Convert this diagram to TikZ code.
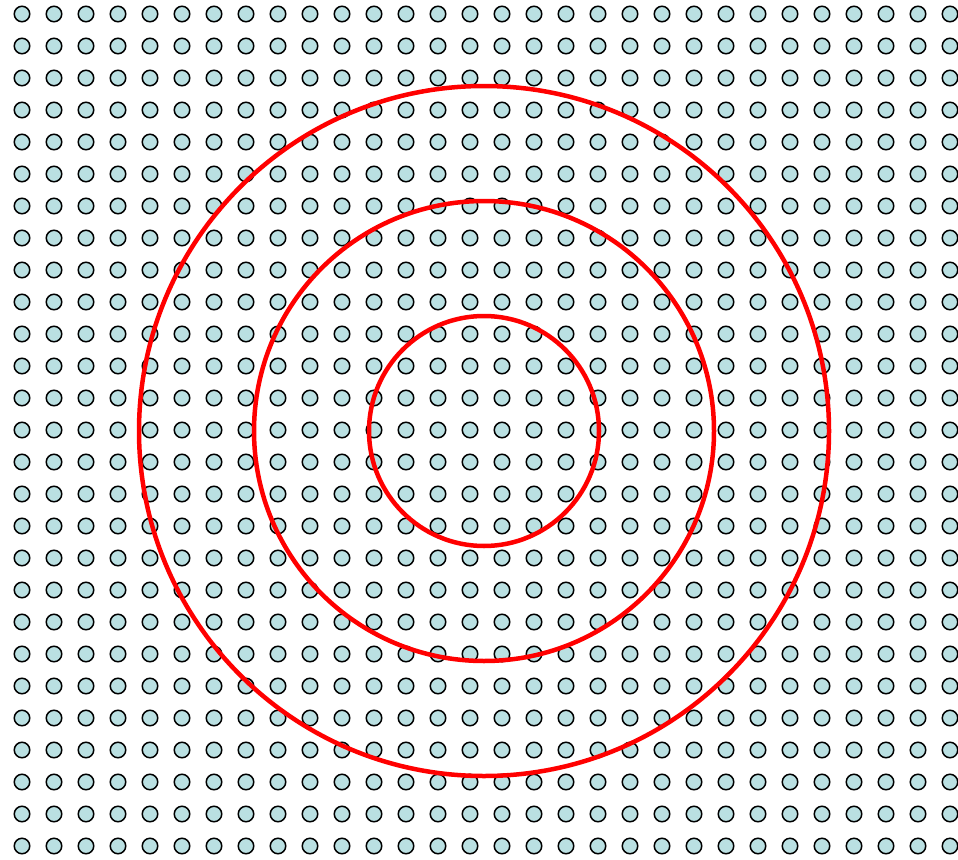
\documentclass[tikz,border=0pt]{standalone}
\definecolor{dotfill}{RGB}{186,224,226}
\begin{document}
\begin{tikzpicture}[x=1pt,y=-1pt,
    dot/.style={circle,draw=black,fill=dotfill,line width=1.5pt,minimum size=15.5pt,inner sep=0pt},
    ring/.style={draw=red,line width=4.5pt} ]
    \useasboundingbox (0,0) rectangle (958,859);
    \foreach \i in {0,...,29}
      \foreach \j in {0,...,26}
        \node [dot] (d-\i-\j) at (22+32*\i,14+32*\j) {};
    \coordinate (ctr) at (484,431);
    \draw [ring] (ctr) circle (115pt);
    \draw [ring] (ctr) circle (230pt);
    \draw [ring] (ctr) circle (345pt);
\end{tikzpicture}
\end{document}
